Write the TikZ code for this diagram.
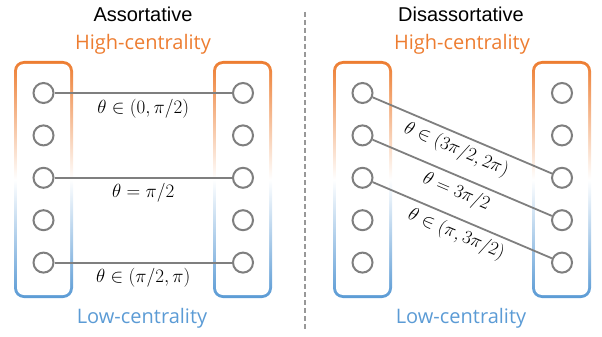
\documentclass[tikz,border=0pt]{standalone}
\usepackage{fix-cm}
\usepackage{fontspec}
\setmainfont{Open Sans}
\newfontfamily\titlefont{Liberation Sans}
\usetikzlibrary{positioning}
\definecolor{hiorange}{HTML}{ED7D31}
\definecolor{lowblue}{HTML}{5B9BD5}
\definecolor{vgray}{HTML}{7F7F7F}
\tikzset{
  vtx/.style={circle, draw=vgray, line width=2pt, fill=white, minimum size=20pt, inner sep=0pt},
  link/.style={draw=vgray, line width=1.8pt},
  lab/.style={font=\fontsize{19}{21}\selectfont, inner sep=1pt, text=black},
  heading/.style={font=\titlefont\fontsize{20}{22}\selectfont},
  cent/.style={font=\fontsize{20}{22}\selectfont}
}

\begin{document}
\begin{tikzpicture}[x=1pt, y=-1pt]
\useasboundingbox (0,0) rectangle (602,337);
\foreach \xl in {14,213,333,532}
{
\shade[rounded corners=10pt, top color=hiorange, bottom color=lowblue, middle color=white] (\xl,61) rectangle (\xl+59,298);
\fill[white, rounded corners=7pt] (\xl+3,64) rectangle (\xl+56,295);
}
\foreach \col/\x in {a/43.5,b/243,c/362.5,d/562}
  \foreach \i in {1,...,5}
    \node[vtx] (\col\i) at (\x,{93+42.4*(\i-1)}) {};

\node[heading] (asso) at (143,14) {Assortative};
\node[heading] (disa) at (461,14) {Disassortative};
\node[cent, text=hiorange] (hiL) at (143,44) {High-centrality};
\node[cent, text=hiorange] (hiR) at (462,44) {High-centrality};
\node[cent, text=lowblue] (loL) at (142,318) {Low-centrality};
\node[cent, text=lowblue] (loR) at (461,318) {Low-centrality};

\draw[link] (a1) -- node[lab, below=4pt] {$\theta\in(0,\pi/2)$} (b1);
\draw[link] (a3) -- node[lab, below=4pt] {$\theta=\pi/2$} (b3);
\draw[link] (a5) -- node[lab, below=4pt] {$\theta\in(\pi/2,\pi)$} (b5);
\draw[link] (c1) -- node[lab, sloped, below=4pt] {$\theta\in(3\pi/2,2\pi)$} (d3);
\draw[link] (c2) -- node[lab, sloped, below=4pt] {$\theta=3\pi/2$} (d4);
\draw[link] (c3) -- node[lab, sloped, below=4pt] {$\theta\in(\pi,3\pi/2)$} (d5);

\draw[vgray!80, line width=1.8pt, dash pattern=on 5pt off 3pt] (305,12) -- (305,330);
\end{tikzpicture}
\end{document}
